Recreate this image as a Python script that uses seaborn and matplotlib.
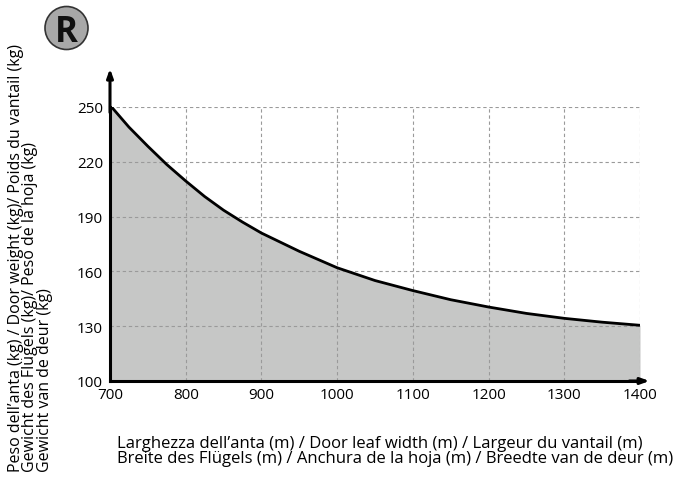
import numpy as np
import pandas as pd
import matplotlib
matplotlib.use("Agg")
import matplotlib.pyplot as plt
import seaborn as sns
from matplotlib.patches import Ellipse

# Data
width_mm = [700, 725, 750, 775, 800, 825, 850, 875, 900, 950, 1000, 1050, 1100, 1150,
            1200, 1250, 1300, 1350, 1400]
weight_kg = [251, 239, 228.5, 218.5, 209.5, 201, 193.5, 187, 181, 171, 162, 155, 149.5,
             144.5, 140.5, 137, 134.3, 132.2, 130.5]
x_ticks = [700, 800, 900, 1000, 1100, 1200, 1300, 1400]
y_ticks = [100, 130, 160, 190, 220, 250]

y_label = ("Peso dell\u2019anta (kg) / Door weight (kg)/ Poids du vantail (kg)\n"
           "Gewicht des Fl\u00fcgels (kg)/ Peso de la hoja (kg)\n"
           "Gewicht van de deur (kg)")
x_label = ("Larghezza dell\u2019anta (m) / Door leaf width (m) / Largeur du vantail (m)\n"
           "Breite des Fl\u00fcgels (m) / Anchura de la hoja (m) / Breedte van de deur (m)")

sns.set_style("white")
plt.rcParams['font.family'] = ['Open Sans', 'DejaVu Sans']

df = pd.DataFrame({"w": width_mm, "kg": weight_kg})

fig = plt.figure(figsize=(6.8, 4.85), dpi=100)
W, H = 680, 485
ax = fig.add_axes([110 / W, 1 - 382 / H, 530 / W, 274 / H])

ax.fill_between(df["w"], 100, df["kg"], color="#c6c7c6", lw=0, zorder=1)
sns.lineplot(data=df, x="w", y="kg", ax=ax, color="black", lw=2, zorder=3)

ax.set_xlim(700, 1400)
ax.set_ylim(100, 250)
ax.set_xticks(x_ticks)
ax.set_yticks(y_ticks)
ax.grid(True, linestyle=(0, (3, 2.5)), color="#9a9a9a", lw=0.8, zorder=2)
ax.set_axisbelow(False)
for s in ["top", "right"]:
    ax.spines[s].set_visible(False)
for s in ["left", "bottom"]:
    ax.spines[s].set_linewidth(2.2)
    ax.spines[s].set_color("black")
    ax.spines[s].set_zorder(4)
ax.tick_params(axis="both", length=0, labelsize=11, colors="black")
ax.tick_params(axis="y", pad=5)
ax.tick_params(axis="x", pad=4)
ax.set_xlabel("")
ax.set_ylabel("")

# axis arrows
ax.annotate("", xy=(0, 1.14), xytext=(0, 0.98), xycoords="axes fraction",
            arrowprops=dict(arrowstyle="-|>,head_length=0.5,head_width=0.18", color="black", lw=2.2,
                            shrinkA=0, shrinkB=0), annotation_clip=False)
ax.annotate("", xy=(1.018, 0), xytext=(0.98, 0), xycoords="axes fraction",
            arrowprops=dict(arrowstyle="-|>,head_length=0.5,head_width=0.18", color="black", lw=2.2,
                            shrinkA=0, shrinkB=0), annotation_clip=False)

fig.text(8 / W, 1 - 472 / H, y_label, rotation=90, ha="left", va="bottom",
         multialignment="left", fontsize=11.5, linespacing=0.86, color="black")
fig.text(117 / W, 1 - 436 / H, x_label, ha="left", va="top",
         fontsize=12, linespacing=0.93, color="black")

fig.add_artist(Ellipse((66.5 / W, 1 - 29 / H), width=43 / W, height=43 / H,
                       transform=fig.transFigure, facecolor="#a8a8a8",
                       edgecolor="#333333", lw=1.2))
fig.text(66.5 / W, 1 - 29 / H, "R", ha="center", va="center_baseline",
         fontsize=25, fontweight="bold", color="#111111")

fig.savefig("out.png", dpi=100)
